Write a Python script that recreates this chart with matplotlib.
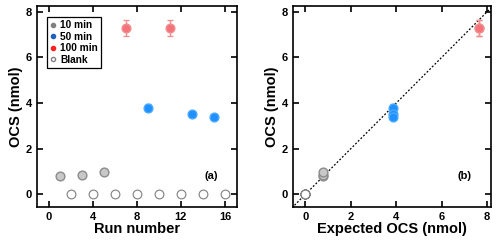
import numpy as np
import matplotlib
matplotlib.use('Agg')
import matplotlib.pyplot as plt
from matplotlib.lines import Line2D

plt.rcParams.update({
    'font.family': ['Liberation Sans', 'DejaVu Sans'],
    'font.weight': 'bold',
    'axes.labelweight': 'bold',
    'axes.linewidth': 1.2,
    'xtick.direction': 'in',
    'ytick.direction': 'in',
    'xtick.top': True,
    'ytick.right': True,
    'xtick.major.width': 1.2,
    'ytick.major.width': 1.2,
    'xtick.major.size': 4,
    'ytick.major.size': 4,
    'xtick.labelsize': 8,
    'ytick.labelsize': 8,
})

# run numbers and measured OCS (nmol)
run_10 = [1, 3, 5]
ocs_10 = [0.82, 0.85, 0.97]
err_10 = [0.05, 0.05, 0.05]
run_50 = [9, 13, 15]
ocs_50 = [3.80, 3.50, 3.40]
err_50 = [0.15, 0.12, 0.12]
run_100 = [7, 11]
ocs_100 = [7.30, 7.30]
err_100 = [0.35, 0.35]
run_blank = [2, 4, 6, 8, 10, 12, 14, 16]
ocs_blank = [0, 0, 0, 0, 0, 0, 0, 0]

# expected OCS (nmol)
exp_10 = [0.77, 0.77, 0.77]
exp_50 = [3.85, 3.85, 3.85]
exp_100 = [7.66, 7.66]
exp_blank = [0, 0, 0, 0, 0, 0, 0, 0]

c_gray, e_gray = '#c8c8c8', '#8c8c8c'
c_blue, e_blue = '#1e90ff', '#4aa8ff'
c_red, e_red = '#f4737a', '#f09090'

fig = plt.figure(figsize=(5.0, 2.43), dpi=100)
ax1 = fig.add_axes([0.074, 0.148, 0.40, 0.827])
ax2 = fig.add_axes([0.585, 0.148, 0.396, 0.827])

def draw(ax, x10, x50, x100, xb):
    ax.errorbar(x10, ocs_10, yerr=err_10, fmt='o', ms=6.3, mfc=c_gray, mec=e_gray,
                ecolor=e_gray, capsize=2, elinewidth=1, zorder=3)
    ax.errorbar(x50, ocs_50, yerr=err_50, fmt='o', ms=6.3, mfc=c_blue, mec=e_blue,
                ecolor=e_blue, capsize=2, elinewidth=1, zorder=3)
    ax.errorbar(x100, ocs_100, yerr=err_100, fmt='o', ms=6.3, mfc=c_red, mec=e_red,
                ecolor=e_red, capsize=2.5, elinewidth=1, zorder=3)
    ax.plot(xb, ocs_blank, 'o', ms=6.3, mfc='white', mec='#808080', mew=0.8, zorder=3)

draw(ax1, run_10, run_50, run_100, run_blank)
ax1.set_xlim(-1.05, 17.1)
ax1.set_ylim(-0.56, 8.25)
ax1.set_xticks([0, 4, 8, 12, 16])
ax1.set_yticks([0, 2, 4, 6, 8])
ax1.set_xlabel('Run number', fontsize=10.5, labelpad=0)
ax1.set_ylabel('OCS (nmol)', fontsize=10.5, labelpad=2)
ax1.text(0.905, 0.13, '(a)', transform=ax1.transAxes, ha='right', va='bottom', fontsize=8)

handles = [
    Line2D([], [], ls='', marker='o', ms=3, mfc='#808080', mec='#808080'),
    Line2D([], [], ls='', marker='o', ms=3, mfc='#1f5fbf', mec='#1f5fbf'),
    Line2D([], [], ls='', marker='o', ms=3, mfc='#ff2020', mec='#ff2020'),
    Line2D([], [], ls='', marker='o', ms=3, mfc='white', mec='#808080'),
]
leg = ax1.legend(handles, ['10 min', '50 min', '100 min', 'Blank'], loc='upper left',
                 bbox_to_anchor=(0.05, 0.945), fontsize=7.3, fancybox=False,
                 edgecolor='black', framealpha=1, handlelength=0.6, handletextpad=0.4,
                 labelspacing=0.15, borderpad=0.3, borderaxespad=0)
leg.get_frame().set_linewidth(0.9)

x_line = np.array([-0.6, 8.2])
ax2.plot(x_line, x_line, ls=(0, (1.5, 1.5)), color='black', lw=0.9, zorder=2)
draw(ax2, exp_10, exp_50, exp_100, exp_blank)
ax2.set_xlim(-0.57, 8.15)
ax2.set_ylim(-0.56, 8.25)
ax2.set_xticks([0, 2, 4, 6, 8])
ax2.set_yticks([0, 2, 4, 6, 8])
ax2.set_xlabel('Expected OCS (nmol)', fontsize=10.5, labelpad=0)
ax2.set_ylabel('OCS (nmol)', fontsize=10.5, labelpad=2)
ax2.text(0.905, 0.13, '(b)', transform=ax2.transAxes, ha='right', va='bottom', fontsize=8)

fig.savefig('out.png', dpi=100)
